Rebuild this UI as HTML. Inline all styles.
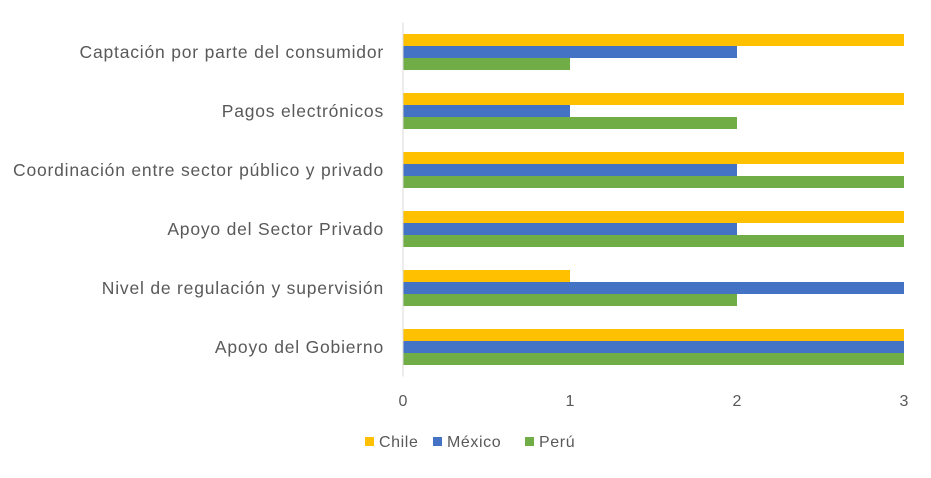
<!DOCTYPE html>
<html><head><meta charset="utf-8"><style>
body{margin:0;background:#fff;}
svg text{font-family:"Liberation Sans",sans-serif;fill:#595959;}
</style></head><body>
<svg id="chart" width="931" height="473"></svg>
<script>
const categories=["Captación por parte del consumidor","Pagos electrónicos","Coordinación entre sector público y privado","Apoyo del Sector Privado","Nivel de regulación y supervisión","Apoyo del Gobierno"];
const chile=[3,3,3,3,1,3];
const mexico=[2,1,2,2,3,3];
const peru=[1,2,3,3,2,3];
const ticks=[0,1,2,3];
const seriesNames=["Chile","México","Perú"];
const colors=["#FFC000","#4472C4","#70AD47"];
const NS="http://www.w3.org/2000/svg";
const svgEl=document.getElementById('chart');
const x0=403,x1=904,plotTop=22.5,plotBottom=376.5;
const xs=v=>x0+(x1-x0)*v/3;
const band=(plotBottom-plotTop)/categories.length;
const barH=12;
function mk(t,a){const e=document.createElementNS(NS,t);for(const k in a)e.setAttribute(k,a[k]);svgEl.appendChild(e);return e;}
const series=[chile,mexico,peru];
categories.forEach((c,i)=>{
  const gy=plotTop+i*band+(band-3*barH)/2;
  const t=mk('text',{x:384,y:plotTop+i*band+band/2+6,'text-anchor':'end','font-size':'17.5','letter-spacing':'0.8'});
  t.textContent=c;
  
  
  series.forEach((s,j)=>{
    const r=mk('rect',{x:x0,y:gy+j*barH,width:xs(s[i])-x0,height:barH,fill:colors[j]});
    
    
  });
});
const ax=mk('line',{x1:x0,x2:x0,y1:plotTop,y2:plotBottom,stroke:'#D9D9D9','stroke-width':1});


ticks.forEach(v=>{
  const t=mk('text',{x:xs(v),y:406,'text-anchor':'middle','font-size':'16'});
  t.textContent=v;
  
  
});
const lx=[365,433,525];
seriesNames.forEach((n,j)=>{
  const r=mk('rect',{x:lx[j],y:437,width:9,height:9,fill:colors[j]});
  
  
  const t=mk('text',{x:lx[j]+14,y:447,'font-size':'16','letter-spacing':'0.6'});
  t.textContent=n;
  
  
});
</script>
</body></html>
